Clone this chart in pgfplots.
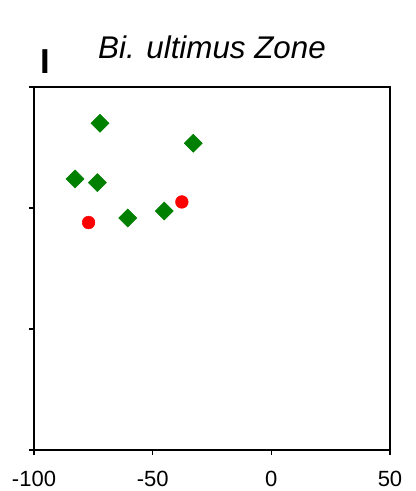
\documentclass[border=0pt]{standalone}
\usepackage{fontspec}
\setmainfont{Liberation Sans}
\usepackage{pgfplots}
\pgfplotsset{compat=1.18}
\definecolor{dgreen}{RGB}{0,128,0}
\definecolor{dred}{RGB}{255,0,0}
\begin{document}
\begin{tikzpicture}
\begin{axis}[
  scale only axis,
  width=267bp, height=272.25bp,
  xmin=-100, xmax=50, ymin=0, ymax=3,
  xtick={-100,-50,0,50},
  ytick={0,1,2,3},
  yticklabels={},
  tick align=outside,
  xtick pos=bottom, ytick pos=left,
  major tick length=3.75bp,
  axis line style={line width=1.3bp},
  every tick/.style={black, line width=1bp},
  /pgf/number format/assume math mode=true,
  ticklabel style={font=\fontsize{16.5bp}{19bp}\selectfont},
  xticklabel style={anchor=base, yshift=-23.25bp},
  clip=false,
]
\addplot[only marks, mark=square*, mark size=4.8bp, mark options={rotate=45, fill=dgreen, draw=dgreen}, color=dgreen]
 coordinates {(-72.2,2.70) (-32.9,2.535) (-82.7,2.24) (-73.3,2.21) (-60.5,1.917) (-45.1,1.975)};
\addplot[only marks, mark=*, mark size=4.75bp, mark options={fill=dred, draw=dred}, color=dred]
 coordinates {(-77.0,1.88) (-37.7,2.05)};
\coordinate (sw) at (rel axis cs:0,0);
\node[anchor=base, inner sep=0] at ([yshift=21.75bp]rel axis cs:0.5,1) {\fontsize{23.5bp}{27bp}\selectfont\itshape Bi. ultimus Zone};
\node[anchor=base west, inner sep=0] at ([xshift=4.5bp, yshift=10.5bp]rel axis cs:0,1) {\fontsize{26bp}{30bp}\selectfont\bfseries I};
\end{axis}
\pgfresetboundingbox
\path ([shift={(-25.5bp,-30.75bp)}]sw) rectangle ([shift={(286.5bp,337.5bp)}]sw);
\end{tikzpicture}
\end{document}
